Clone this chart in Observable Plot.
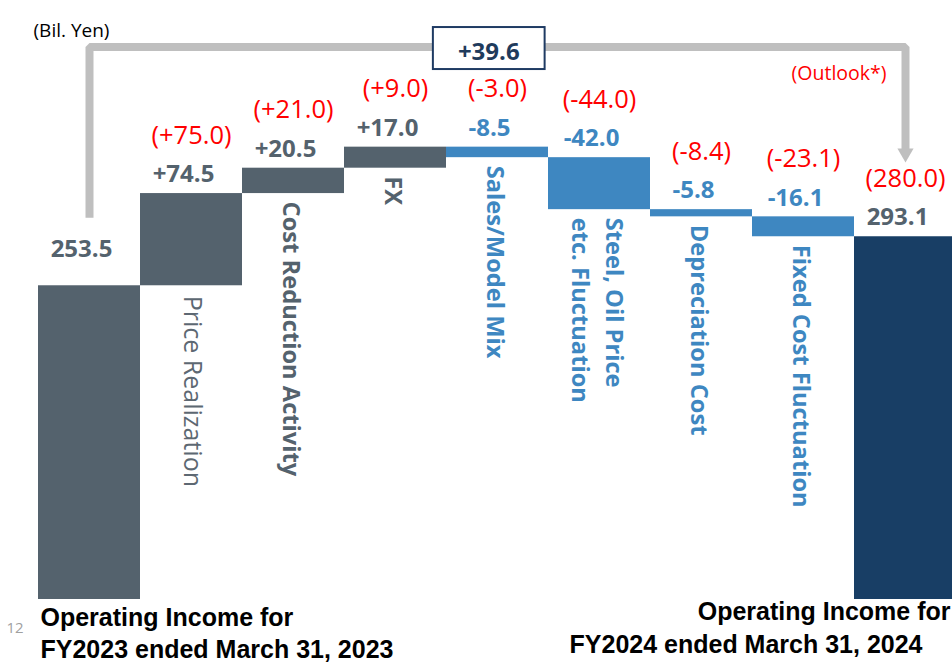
<!DOCTYPE html>
<html>
<head>
<meta charset="utf-8">
<script src="https://cdn.jsdelivr.net/npm/d3@7"></script>
<script src="https://cdn.jsdelivr.net/npm/@observablehq/plot@0.6"></script>
<style>
html, body { margin: 0; padding: 0; background: #fff; overflow: hidden; }
#chart svg { display: block; }
</style>
</head>
<body>
<div id="chart"></div>
<script>
// ---- data ----
const categories = [
  "Operating Income for\nFY2023 ended March 31, 2023",
  "Price Realization",
  "Cost Reduction Activity",
  "FX",
  "Sales/Model Mix",
  "Steel, Oil Price\netc. Fluctuation",
  "Depreciation Cost",
  "Fixed Cost Fluctuation",
  "Operating Income for\nFY2024 ended March 31, 2024"
];
const values = [253.5, 74.5, 20.5, 17.0, -8.5, -42.0, -5.8, -16.1, 293.1];
const kinds = ["total", "delta", "delta", "delta", "delta", "delta", "delta", "delta", "total"];
const outlook = [null, 75.0, 21.0, 9.0, -3.0, -44.0, -8.4, -23.1, 280.0];
const unitLabel = "(Bil. Yen)";
const outlookNote = "(Outlook*)";
const pageNumber = "12";

// ---- styles ----
const gray = "#54626d", blue = "#3e87c1", navy = "#183e65", red = "#ff0000",
      bracketGray = "#bfbfbf", boxNavy = "#1f3b63", textNavy = "#1f3b5c";
const FONT = "Open Sans, sans-serif";
const CAPFONT = "Liberation Sans, Arial, sans-serif";

// ---- build waterfall rows ----
let run = 0;
const rows = categories.map((c, i) => {
  const v = values[i], k = kinds[i];
  let y1, y2;
  if (k === "total") { y1 = 0; y2 = v; }
  else { y1 = run; y2 = run + v; }
  run = y2;
  return {i, category: c, value: v, kind: k, top: Math.max(y1, y2), bottom: Math.min(y1, y2), outlook: outlook[i]};
});
const n = rows.length;
const first = categories[0], last = categories[n - 1];
const startVal = values[0], endVal = values[n - 1];
const maxTop = d3.max(rows, d => d.top);
const changeLabel = (endVal - startVal >= 0 ? "+" : "") + (endVal - startVal).toFixed(1);

const barFill = d => d.kind === "total" ? (d.i === 0 ? gray : navy) : (d.value >= 0 ? gray : blue);
const labelFill = d => (d.kind === "delta" && d.value < 0) ? blue : gray;
const valueText = d => d.kind === "total" ? d.value.toFixed(1) : (d.value > 0 ? "+" : "") + d.value.toFixed(1);
const outlookText = d => d.kind === "total" ? `(${d.outlook.toFixed(1)})` : `(${d.outlook > 0 ? "+" : ""}${d.outlook.toFixed(1)})`;

const bracketPts = [
  {x: first, y: startVal + 55},
  {x: first, y: maxTop + 81},
  {x: last, y: maxTop + 81},
  {x: last, y: endVal + 67.6}
];

const deltas = rows.filter(d => d.kind === "delta");
const capRight = last.split("\n");

const chart = Plot.plot({
  width: 952,
  height: 668,
  marginLeft: 36,
  marginRight: -6.5,
  marginTop: 0,
  marginBottom: 69,
  style: {fontFamily: FONT, background: "white", overflow: "visible"},
  x: {domain: categories, padding: 0, axis: null},
  y: {domain: [0, 484], axis: null},
  color: {type: "identity"},
  marks: [
    Plot.barY(rows, {x: "category", y1: "bottom", y2: "top", fill: barFill}),
    // bracket arrow
    Plot.line(bracketPts, {x: "x", y: "y", stroke: bracketGray, strokeWidth: 8, strokeLinejoin: "miter", strokeLinecap: "butt"}),
    Plot.dot([bracketPts[3]], {x: "x", y: "y", symbol: "triangle", r: 6, rotate: 180, fill: bracketGray}),
    // value labels
    Plot.text(rows.filter(d => d.i !== 0), {x: "category", y: "top", text: valueText, fill: labelFill,
      dx: -8, dy: -19, fontSize: 24, fontWeight: "bold", fontFamily: FONT}),
    Plot.text(rows.filter(d => d.i === 0), {x: "category", y: "top", text: valueText, fill: labelFill,
      dx: -8, dy: -36, fontSize: 24, fontWeight: "bold", fontFamily: FONT}),
    // outlook labels
    Plot.text(rows.filter(d => d.outlook != null), {x: "category", y: "top", text: outlookText, fill: red,
      dy: -58, fontSize: 25.5, fontFamily: FONT}),
    // rotated category labels
    Plot.text(deltas.filter(d => d.i === 1), {x: "category", y: "bottom", text: "category", fill: "#5d6872",
      rotate: 90, textAnchor: "start", dy: 10, fontSize: 25, fontFamily: FONT}),
    Plot.text(deltas.filter(d => d.i !== 1), {x: "category", y: "bottom", text: "category", fill: labelFill,
      rotate: 90, textAnchor: "start", dy: 8, fontSize: 23.7, fontWeight: "bold", lineHeight: 1.42, fontFamily: FONT}),
    // change label (boxed below)
    Plot.text([changeLabel], {frameAnchor: "top", dx: -9, dy: 42, fill: textNavy, fontSize: 24, fontWeight: "bold", fontFamily: FONT}),
    // notes
    Plot.text([unitLabel], {frameAnchor: "top-left", textAnchor: "start", dx: -3, dy: 23, fill: "#000", fontSize: 19, fontFamily: FONT}),
    Plot.text([outlookNote], {x: [last], frameAnchor: "top", textAnchor: "end", dx: -19, dy: 66, fill: red, fontSize: 19.5, fontFamily: FONT}),
    Plot.text([pageNumber], {frameAnchor: "bottom-left", textAnchor: "start", dx: -30, dy: 33, fill: "#a0a0a0", fontSize: 15, fontFamily: FONT}),
    // bottom captions
    Plot.text([first], {frameAnchor: "bottom-left", textAnchor: "start", lineAnchor: "top", dx: 4, dy: 3,
      lineHeight: 1.3, fill: "#000", fontSize: 25, fontWeight: "bold", fontFamily: CAPFONT}),
    Plot.text([capRight[0]], {frameAnchor: "bottom-right", textAnchor: "end", lineAnchor: "top", dx: -8.5, dy: 3,
      fill: "#000", fontSize: 25, fontWeight: "bold", fontFamily: CAPFONT}),
    Plot.text([capRight[1]], {frameAnchor: "bottom-right", textAnchor: "end", lineAnchor: "top", dx: -36.5, dy: 35.5,
      fill: "#000", fontSize: 25, fontWeight: "bold", fontFamily: CAPFONT})
  ]
});

document.getElementById("chart").append(chart);

// draw the box around the change label
const svg = chart;
const node = d3.select(svg).selectAll("text").filter(function() { return this.textContent === changeLabel; }).node();
if (node) {
  const r = node.getBoundingClientRect();
  const s = svg.getBoundingClientRect();
  const cx = (r.left + r.right) / 2 - s.left;
  const cy = (r.top + r.bottom) / 2 - s.top - 2;
  const w = r.width + 50, h = 42;
  const g = node.closest("g");
  const rect = document.createElementNS("http://www.w3.org/2000/svg", "rect");
  rect.setAttribute("x", cx - w / 2);
  rect.setAttribute("y", cy - h / 2);
  rect.setAttribute("width", w);
  rect.setAttribute("height", h);
  rect.setAttribute("fill", "white");
  rect.setAttribute("stroke", boxNavy);
  rect.setAttribute("stroke-width", 2);
  g.parentNode.insertBefore(rect, g);
}
</script>
</body>
</html>
